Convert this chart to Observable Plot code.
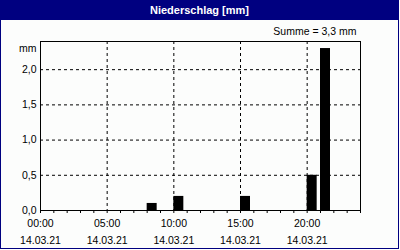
<!DOCTYPE html>
<html>
<head>
<meta charset="utf-8">
<script src="https://cdn.jsdelivr.net/npm/d3@7"></script>
<script src="https://cdn.jsdelivr.net/npm/@observablehq/plot@0.6"></script>
<style>
  html, body { margin: 0; padding: 0; background: #fff; }
  #box { position: absolute; left: 0; top: 0; width: 399px; height: 249px; box-sizing: border-box;
         border: 1px solid #000080; background: #fcfdfc; overflow: hidden; }
  #title { height: 19px; background: #000080; color: #fff; font: bold 11px "Liberation Sans", Arial, sans-serif;
           text-align: center; line-height: 19px; }
  #chart svg { display: block; }
</style>
</head>
<body>
<div id="box">
  <div id="title">Niederschlag [mm]</div>
  <div id="chart"></div>
</div>
<script>
const hours = [8, 10, 15, 20, 21];
const values = [0.1, 0.2, 0.2, 0.5, 2.3];
const tickHours = [0, 5, 10, 15, 20];
const tickTimes = ["00:00", "05:00", "10:00", "15:00", "20:00"];
const tickDates = ["14.03.21", "14.03.21", "14.03.21", "14.03.21", "14.03.21"];
const yTicks = [0, 0.5, 1, 1.5, 2];
const yLabels = ["0,0", "0,5", "1,0", "1,5", "2,0"];
const unitLabel = "mm";
const sumLabel = "Summe = 3,3 mm";
const hourTicks = d3.range(0, 25);

const data = hours.map((h, i) => ({hour: h, value: values[i]}));

const chart = Plot.plot({
  width: 397,
  height: 228,
  marginLeft: 39,
  marginRight: 38,
  marginTop: 21,
  marginBottom: 38,
  style: {fontFamily: "'Liberation Sans', Arial, sans-serif", fontSize: "10.5px", background: "transparent", color: "black"},
  x: {domain: [0, 24]},
  y: {domain: [0, 2.4]},
  marks: [
    Plot.gridY(yTicks.slice(1), {stroke: "black", strokeOpacity: 1, strokeDasharray: "3,3"}),
    Plot.gridX(tickHours.slice(1), {stroke: "black", strokeOpacity: 1, strokeDasharray: "3,3"}),
    Plot.rectY(data, {x1: "hour", x2: d => d.hour + 0.75, y1: 0, y2: "value", fill: "black"}),
    Plot.frame({stroke: "black"}),
    Plot.axisY(yTicks, {tickSize: 0, tickPadding: 4, tickFormat: d => yLabels[yTicks.indexOf(d)], label: null}),
    Plot.axisX(hourTicks, {tickSize: 3, tickFormat: () => "", label: null}),
    Plot.axisX(tickHours, {tickSize: 0, tickPadding: 4, lineHeight: 1.65,
      tickFormat: d => tickTimes[tickHours.indexOf(d)] + "\n" + tickDates[tickHours.indexOf(d)], label: null}),
    Plot.text([unitLabel], {frameAnchor: "top-left", dx: -4, dy: 3, textAnchor: "end", text: d => d}),
    Plot.text([sumLabel], {frameAnchor: "top-right", dx: -4, dy: -14, textAnchor: "end", text: d => d})
  ]
});
document.getElementById("chart").appendChild(chart);
</script>
</body>
</html>
